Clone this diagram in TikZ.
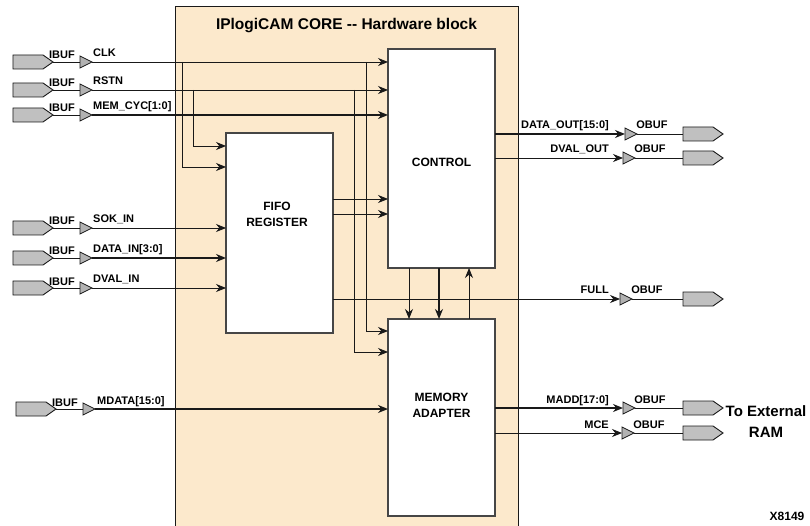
\documentclass[tikz,border=0pt]{standalone}
\usepackage{fontspec}
\setmainfont{Liberation Sans}
\usetikzlibrary{arrows.meta,shapes.geometric,shapes.symbols}
\definecolor{corefill}{RGB}{252,233,204}
\definecolor{portgray}{RGB}{192,192,192}
\definecolor{bufgray}{RGB}{178,178,178}
\definecolor{ink}{RGB}{25,25,25}
\definecolor{boxline}{RGB}{70,70,70}
\begin{document}
\begin{tikzpicture}[x=1pt,y=-1pt,
  port/.style={signal, signal to=east, signal pointer angle=70, draw=ink, fill=portgray, line width=0.9pt, minimum width=40pt, minimum height=14pt, inner sep=0pt, outer sep=0pt},
  buf/.style={isosceles triangle, isosceles triangle stretches, shape border rotate=0, draw=ink, fill=bufgray, line width=0.7pt, minimum width=12pt, minimum height=12pt, inner sep=0pt, outer sep=0pt, anchor=west},
  blk/.style={draw=boxline, fill=white, line width=1.1pt, minimum width=107pt, anchor=north west, inner sep=0pt, outer sep=0pt},
  sig/.style={draw=ink, line width=0.9pt},
  bus/.style={draw=ink, line width=2.4pt},
  arr/.style={-{Stealth[length=10pt,width=8pt]}},
  lbl/.style={font=\bfseries\fontsize{11}{13}\selectfont, inner sep=0pt},
  blklbl/.style={font=\bfseries\fontsize{12}{16}\selectfont, align=center, inner sep=0pt}]
\useasboundingbox (0,0) rectangle (810,526);
% core block
\fill[corefill] (175,7) rectangle (518,527);
\draw[ink, line width=1pt] (175,527) -- (175,7) -- (518,7) -- (518,527);
\node[font=\bfseries\fontsize{15.5}{18}\selectfont, inner sep=0pt] (title) at (346.5,26) {IPlogiCAM CORE {-}{-} Hardware block};
% blocks
\node[blk, minimum height=219pt] (ctrl) at (388,49) {};
\node[blk, minimum height=200pt] (fifo) at (226,133) {};
\node[blk, minimum height=197pt] (mem) at (388,319) {};
\node[blklbl] (ctrltxt) at (441.5,162) {CONTROL};
\node[blklbl] (fifotxt) at (277,214) {FIFO\\REGISTER};
\node[blklbl] (memtxt) at (441.5,405.5) {MEMORY\\ADAPTER};
% inputs
\foreach \n/\y/\t in {clk/62/CLK, rstn/90/RSTN, cyc/115/{MEM\_CYC[1:0]}, sok/228/{SOK\_IN}, din/258/{DATA\_IN[3:0]}, dvi/288/{DVAL\_IN}} {
  \node[port] (p\n) at (28,\y) {};
  \node[buf] (b\n) at (80,\y) {};
  \draw[sig] (p\n.east) -- (b\n.west);
  \node[lbl, anchor=base] (i\n) at (62,\y-3) {IBUF};
  \node[lbl, anchor=base west] (l\n) at (93,\y-5) {\t};
}
\node[port] (pmd) at (31,409) {};
\node[buf] (bmd) at (83,409) {};
\draw[sig] (pmd.east) -- (bmd.west);
\node[lbl, anchor=base] (imd) at (65,406) {IBUF};
\node[lbl, anchor=base west] (lmd) at (97,404) {MDATA[15:0]};
% outputs
\foreach \n/\y/\bx/\t in {dout/134/625/{DATA\_OUT[15:0]}, dvo/158/623/{DVAL\_OUT}, full/299/620/FULL, madd/408/623/{MADD[17:0]}, mce/433/622/MCE} {
  \node[buf] (b\n) at (\bx,\y) {};
  \node[port] (p\n) at (698,\y) {};
  \draw[sig] (b\n.apex) -- (p\n.west);
  \node[lbl, anchor=base] (o\n) at (\bx+27,\y-5) {OBUF};
  \node[lbl, anchor=base east] (l\n) at (609,\y-5) {\t};
}
\node[font=\bfseries\fontsize{15}{21}\selectfont, align=center, inner sep=0pt] (ram) at (766,421.5) {To External\\RAM};
\node[font=\bfseries\fontsize{12}{14}\selectfont, inner sep=0pt] (fig) at (787,516) {X8149};
% named points
\coordinate (clkA) at (182,62);
\coordinate (clkB) at (366,62);
\coordinate (rstA) at (193,90);
\coordinate (rstB) at (354,90);
\coordinate (fclk) at (226,167);
\coordinate (frst) at (226,146);
\coordinate (mclk) at (388,331);
\coordinate (mrst) at (388,352);
% input connections
\draw[sig,arr] (bclk.apex) -- (ctrl.west |- bclk.apex);
\draw[sig,arr] (clkA) |- (fclk);
\draw[sig,arr] (clkB) |- (mclk);
\draw[sig,arr] (brstn.apex) -- (ctrl.west |- brstn.apex);
\draw[sig,arr] (rstA) |- (frst);
\draw[sig,arr] (rstB) |- (mrst);
\draw[bus,arr] (bcyc.apex) -- (ctrl.west |- bcyc.apex);
\draw[sig,arr] (bsok.apex) -- (fifo.west |- bsok.apex);
\draw[bus,arr] (bdin.apex) -- (fifo.west |- bdin.apex);
\draw[sig,arr] (bdvi.apex) -- (fifo.west |- bdvi.apex);
\draw[bus,arr] (bmd.apex) -- (mem.west |- bmd.apex);
% fifo to control
\coordinate (f1) at (333,199);
\coordinate (f2) at (333,214);
\coordinate (f3) at (333,299);
\draw[sig,arr] (f1) -- (ctrl.west |- f1);
\draw[sig,arr] (f2) -- (ctrl.west |- f2);
\draw[sig,arr] (f3) -- (bfull.west);
% control <-> memory
\coordinate (cm1) at (409,268);
\coordinate (cm2) at (439,268);
\coordinate (cm3) at (469,268);
\draw[sig,arr] (cm1) -- (mem.north -| cm1);
\draw[bus,arr] (cm2) -- (mem.north -| cm2);
\draw[sig,arr] (mem.north -| cm3) -- (cm3);
% outputs
\draw[bus,arr] (ctrl.east |- bdout) -- (bdout.west);
\draw[sig,arr] (ctrl.east |- bdvo) -- (bdvo.west);
\draw[bus,arr] (mem.east |- bmadd) -- (bmadd.west);
\draw[sig,arr] (mem.east |- bmce) -- (bmce.west);
\end{tikzpicture}
\end{document}
